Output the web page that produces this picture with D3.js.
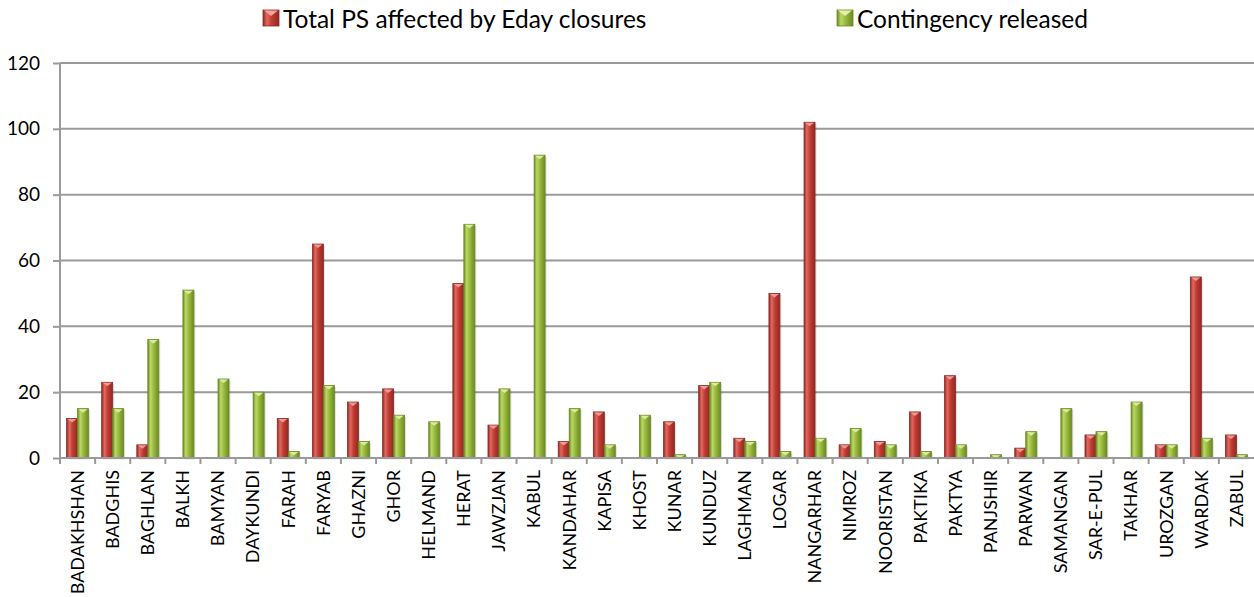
<!DOCTYPE html>
<html>
<head>
<meta charset="utf-8">
<script src="https://cdn.jsdelivr.net/npm/d3@7"></script>
<style>
  body { margin: 0; background: #fff; }
  svg { display: block; }
</style>
</head>
<body>
<div id="app"></div>
<script>
const provinces = ["BADAKHSHAN", "BADGHIS", "BAGHLAN", "BALKH", "BAMYAN", "DAYKUNDI", "FARAH", "FARYAB",
    "GHAZNI", "GHOR", "HELMAND", "HERAT", "JAWZJAN", "KABUL", "KANDAHAR", "KAPISA", "KHOST", "KUNAR",
    "KUNDUZ", "LAGHMAN", "LOGAR", "NANGARHAR", "NIMROZ", "NOORISTAN", "PAKTIKA", "PAKTYA", "PANJSHIR",
    "PARWAN", "SAMANGAN", "SAR-E-PUL", "TAKHAR", "UROZGAN", "WARDAK", "ZABUL"];
const psAffected = [12, 23, 4, 0, 0, 0, 12, 65, 17, 21, 0, 53, 10, 0, 5, 14, 0, 11,
    22, 6, 50, 102, 4, 5, 14, 25, 0, 3, 0, 7, 0, 4, 55, 7];
const contingency = [15, 15, 36, 51, 24, 20, 2, 22, 5, 13, 11, 71, 21, 92, 15, 4, 13, 1,
    23, 5, 2, 6, 9, 4, 2, 4, 1, 8, 15, 8, 17, 4, 6, 1];
const seriesNames = ["Total PS affected by Eday closures", "Contingency released"];
const yTicks = [0, 20, 40, 60, 80, 100, 120];

const chartW = 1254;
const chartH = 597;
const plotLeft = 60;
const plotRight = 1254;
const plotTop = 63;
const plotBottom = 458;

const colors = [
    {dark: "#8e2a24", mid: "#c23b33", light: "#e06a60", hi: "#f2a49b"},
    {dark: "#6a8a22", mid: "#98b83c", light: "#bcd768", hi: "#e2f0a8"}
];

const svg = d3.select("#app").append("svg")
    .attr("width", chartW)
    .attr("height", chartH);

const defs = svg.append("defs");
colors.forEach(function (c, i) {
    const g = defs.append("linearGradient")
        .attr("id", "grad" + i)
        .attr("x1", "0").attr("x2", "1").attr("y1", "0").attr("y2", "0");
    g.append("stop").attr("offset", "0%").attr("stop-color", c.dark);
    g.append("stop").attr("offset", "25%").attr("stop-color", c.light);
    g.append("stop").attr("offset", "55%").attr("stop-color", c.mid);
    g.append("stop").attr("offset", "100%").attr("stop-color", c.dark);
});

const data = provinces.map(function (p, i) {
    return {name: p, values: [psAffected[i], contingency[i]]};
});

const x0 = d3.scaleBand()
    .domain(provinces)
    .range([plotLeft, plotRight])
    .paddingInner(0.374)
    .paddingOuter(0.187);

const x1 = d3.scaleBand()
    .domain([0, 1])
    .range([0, x0.bandwidth()]);

const y = d3.scaleLinear()
    .domain([0, 120])
    .range([plotBottom, plotTop]);

// GRID + Y AXIS
const yAxis = svg.append("g")
    .attr("transform", "translate(" + plotLeft + ",0)")
    .call(d3.axisLeft(y).tickValues(yTicks).tickSize(7).tickPadding(13));
yAxis.select(".domain").remove();
yAxis.selectAll(".tick line").attr("stroke", "#9a9a9a").attr("stroke-width", 2);
yAxis.selectAll(".tick text")
    .attr("fill", "#000")
    .style("font-family", "Lato, 'Open Sans', sans-serif")
    .style("font-size", "19px");

svg.append("g")
    .selectAll("line")
    .data(yTicks.slice(1))
    .enter()
    .append("line")
    .attr("x1", plotLeft)
    .attr("x2", plotRight)
    .attr("y1", function (d) { return y(d); })
    .attr("y2", function (d) { return y(d); })
    .attr("stroke", "#9a9a9a")
    .attr("stroke-width", 2);

// BARS
const step = x0.step();
const groups = svg.append("g")
    .selectAll("g")
    .data(data)
    .enter()
    .append("g")
    .attr("transform", function (d) { return "translate(" + x0(d.name) + ",0)"; });

const bars = groups.selectAll("g.bar")
    .data(function (d) {
        return d.values.map(function (v, i) { return {v: v, s: i}; })
            .filter(function (b) { return b.v > 0; });
    })
    .enter()
    .append("g")
    .attr("class", "bar");

bars.append("rect")
    .attr("x", function (b) { return x1(b.s) + 1.5; })
    .attr("y", function (b) { return y(b.v) + 1.5; })
    .attr("width", x1.bandwidth())
    .attr("height", function (b) { return plotBottom - y(b.v); })
    .attr("fill", "rgba(0,0,0,0.12)");

bars.append("rect")
    .attr("x", function (b) { return x1(b.s); })
    .attr("y", function (b) { return y(b.v); })
    .attr("width", x1.bandwidth())
    .attr("height", function (b) { return plotBottom - y(b.v); })
    .attr("fill", function (b) { return "url(#grad" + b.s + ")"; })
    .attr("stroke", function (b) { return colors[b.s].dark; })
    .attr("stroke-width", 0.8);

bars.append("path")
    .attr("d", function (b) {
        const bx = x1(b.s);
        const bw = x1.bandwidth();
        const by = y(b.v);
        const h = Math.min(4, plotBottom - by);
        return "M" + (bx + 1) + "," + (by + 0.5) + "L" + (bx + bw - 1) + "," + (by + 0.5) +
            "L" + (bx + bw / 2) + "," + (by + h) + "Z";
    })
    .attr("fill", function (b) { return colors[b.s].hi; })
    .attr("opacity", 0.9);

// X AXIS
svg.append("line")
    .attr("x1", plotLeft)
    .attr("x2", plotRight)
    .attr("y1", plotBottom)
    .attr("y2", plotBottom)
    .attr("stroke", "#9a9a9a")
    .attr("stroke-width", 2);
svg.append("line")
    .attr("x1", plotLeft)
    .attr("x2", plotLeft)
    .attr("y1", plotTop)
    .attr("y2", plotBottom + 6)
    .attr("stroke", "#9a9a9a")
    .attr("stroke-width", 2);

svg.append("g")
    .selectAll("line")
    .data(provinces)
    .enter()
    .append("line")
    .attr("x1", function (d) { return x0(d) - step * x0.paddingInner() / 2; })
    .attr("x2", function (d) { return x0(d) - step * x0.paddingInner() / 2; })
    .attr("y1", plotBottom)
    .attr("y2", plotBottom + 6)
    .attr("stroke", "#9a9a9a")
    .attr("stroke-width", 2);

svg.append("g")
    .selectAll("text")
    .data(provinces)
    .enter()
    .append("text")
    .attr("transform", function (d) {
        return "translate(" + (x0(d) + x0.bandwidth() / 2) + "," + (plotBottom + 12) + ") rotate(-90)";
    })
    .attr("text-anchor", "end")
    .attr("dy", "0.35em")
    .style("font-family", "Lato, 'Open Sans', sans-serif")
    .style("font-size", "18px")
    .text(function (d) { return d; });

// LEGEND
const legendX = [263, 837];
const legend = svg.append("g")
    .selectAll("g")
    .data(seriesNames)
    .enter()
    .append("g")
    .attr("transform", function (d, i) { return "translate(" + legendX[i] + ",10)"; });

legend.append("rect")
    .attr("width", 16)
    .attr("height", 16)
    .attr("fill", function (d, i) { return "url(#grad" + i + ")"; })
    .attr("stroke", function (d, i) { return colors[i].dark; })
    .attr("stroke-width", 0.8);
legend.append("path")
    .attr("d", "M1,0.5L15,0.5L8,6Z")
    .attr("fill", function (d, i) { return colors[i].hi; });
legend.append("text")
    .attr("x", 20)
    .attr("y", 18)
    .style("font-family", "Lato, 'Open Sans', sans-serif")
    .style("font-size", "24.5px")
    .text(function (d) { return d; });
</script>
</body>
</html>
